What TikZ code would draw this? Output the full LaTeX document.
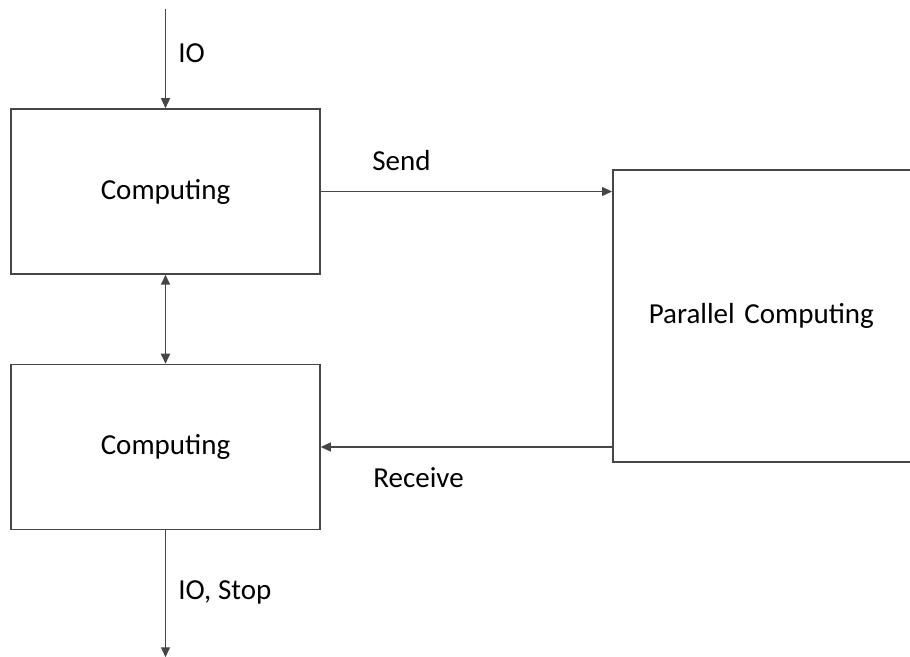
\documentclass[tikz,border=0pt]{standalone}
\usepackage{fontspec}
\setmainfont{Carlito}
\usetikzlibrary{arrows.meta,positioning}
\definecolor{traco}{RGB}{70,70,70}

\begin{document}
\begin{tikzpicture}[x=0.5pt,y=-0.5pt,
        node distance=44.5pt,
        caixa/.style={draw=traco,line width=0.75pt,minimum width=154.5pt,minimum height=82.5pt,
                      font=\fontsize{14.5}{17}\selectfont},
        rotulo/.style={inner sep=0pt,font=\fontsize{14.5}{17}\selectfont},
        seta/.style={-{Triangle[length=5pt,width=4.5pt]},line width=0.7pt,traco},
        setadupla/.style={{Triangle[length=5pt,width=4.5pt]}-{Triangle[length=5pt,width=4.5pt]},line width=0.9pt,traco}]
      \useasboundingbox (0,0) rectangle (910,657);
      % the two computing stages
      \node[caixa] (c1) at (165.5,191.5) {Computing};
      \node[caixa,below=of c1] (c2) {Computing};
      % the parallel part, its right side runs past the page
      \node[caixa,minimum width=175pt,minimum height=146pt,text width=139pt,inner xsep=18pt,align=left,
            anchor=west] (pc) at (612,316) {Parallel Computing};
      \coordinate[above=49.5pt of c1.north] (entrada);
      \coordinate[below=63.5pt of c2.south] (saida);
      \draw[seta](entrada)--(c1.north);
      \draw[setadupla](c1.south)--(c2.north);
      \draw[seta](c2.south)--(saida);
      \draw[seta](c1.east)--(c1.east-|pc.west);
      \draw[seta](c2.east-|pc.west)--(c2.east);
      \node[rotulo,anchor=west] (io) at (178,53) {IO};
      \node[rotulo,anchor=west] (iostop) at (178,592) {IO, Stop};
      \node[rotulo,anchor=west] (send) at (372,161) {Send};
      \node[rotulo,anchor=west] (receive) at (373,478) {Receive};
    \end{tikzpicture}
\end{document}
